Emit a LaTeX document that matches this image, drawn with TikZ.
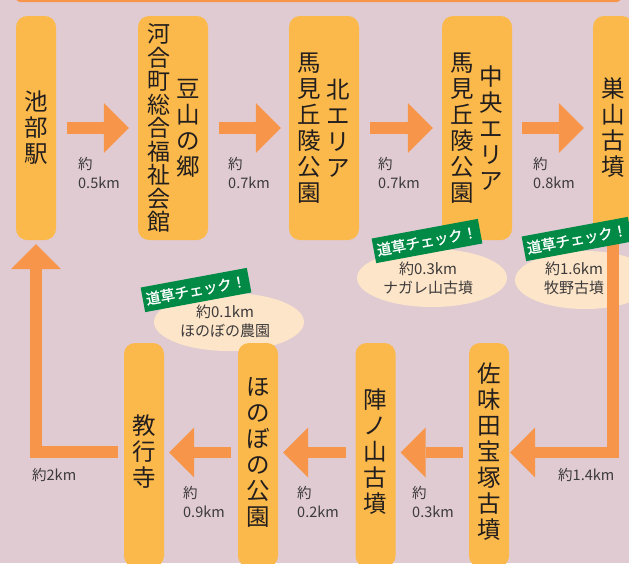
\documentclass[tikz,border=0pt]{standalone}
\usepackage{fontspec}
\setmainfont{Noto Sans CJK JP}
\newfontfamily\tagfont[FakeBold=1.3]{Noto Sans CJK JP}
\usetikzlibrary{arrows.meta,shapes.geometric}
\definecolor{bgc}{RGB}{224,203,210}
\definecolor{boxc}{RGB}{251,185,75}
\definecolor{arrc}{RGB}{247,149,74}
\definecolor{tagc}{RGB}{0,138,70}
\definecolor{ellc}{RGB}{253,229,201}
\definecolor{txtc}{RGB}{35,30,30}
\definecolor{lblc}{RGB}{60,58,58}
\begin{document}
\begin{tikzpicture}[x=1pt,y=-1pt,
 stop/.style={fill=boxc, rounded corners=11pt, minimum width=40pt, minimum height=224pt, inner sep=0pt},
 wide/.style={stop, minimum width=70pt},
 vt/.style={font=\fontsize{23.5}{26}\selectfont, align=center, inner sep=0pt, text=txtc},
 vtt/.style={vt, font=\fontsize{23}{23.5}\selectfont},
 bigarr/.style={draw=arrc, line width=11.5pt, -{Triangle[width=50pt,length=25pt,line width=0pt]}},
 dist/.style={font=\fontsize{14.5}{19}\selectfont, align=left, inner sep=0pt, text=lblc, anchor=west},
 spot/.style={ellipse, fill=ellc, inner sep=0pt, minimum width=150pt, minimum height=58pt},
 spottxt/.style={font=\fontsize{15}{19}\selectfont, align=center, inner sep=0pt, text=lblc},
 tag/.style={fill=tagc, text=white, font=\tagfont\fontsize{14.5}{15}\selectfont, minimum width=108pt, minimum height=25pt, inner sep=0pt, rotate=10.5}]
\fill[bgc] (0,0) rectangle (629,563);
\useasboundingbox (0,0) rectangle (629,563);
\clip (0,0) rectangle (629,563);
\fill[arrc, rounded corners=4pt] (16,-10) rectangle (621,2);
% side trips
\node[spot] (e1) at (432,278) {};
\node[spot, minimum width=140pt] (e2) at (585,280) {};
\node[spot] (e3) at (229,322) {};
% stops
\node[stop] (b1) at (36,128) {};
\node[wide] (b2) at (173,128) {};
\node[wide] (b3) at (324,128) {};
\node[wide] (b4) at (477,128) {};
\node[stop] (b5) at (613,128) {};
\node[stop] (b6) at (489,455) {};
\node[stop] (b7) at (375.5,455) {};
\node[stop] (b8) at (258,455) {};
\node[stop] (b9) at (144,455) {};
% stop names
\node[vt] (t1) at (b1.center) {池\\部\\駅};
\node[vtt] (t2a) at ([xshift=-14pt]b2.center) {河\\合\\町\\総\\合\\福\\祉\\会\\館};
\node[vt] (t2b) at ([xshift=15pt]b2.center) {豆\\山\\の\\郷};
\node[vt] (t3a) at ([xshift=-15pt]b3.center) {馬\\見\\丘\\陵\\公\\園};
\node[vt] (t3b) at ([xshift=14pt]b3.center) {北\\エ\\リ\\ア};
\node[vt] (t4a) at ([xshift=-15pt]b4.center) {馬\\見\\丘\\陵\\公\\園};
\node[vt] (t4b) at ([xshift=14pt]b4.center) {中\\央\\エ\\リ\\ア};
\node[vt] (t5) at (b5.center) {巣\\山\\古\\墳};
\node[vt] (t6) at ([yshift=3pt]b6.center) {佐\\味\\田\\宝\\塚\\古\\墳};
\node[vt] (t7) at ([yshift=3pt]b7.center) {陣\\ノ\\山\\古\\墳};
\node[vt] (t8) at ([yshift=3pt]b8.center) {ほ\\の\\ぼ\\の\\公\\園};
\node[vt] (t9) at ([yshift=3pt]b9.center) {教\\行\\寺};
% arrows
\draw[bigarr] ([xshift=11pt]b1.east) -- ([xshift=-9pt]b2.west);
\draw[bigarr] ([xshift=11pt]b2.east) -- ([xshift=-8pt]b3.west);
\draw[bigarr] ([xshift=11pt]b3.east) -- ([xshift=-9pt]b4.west);
\draw[bigarr] ([xshift=10pt]b4.east) -- ([xshift=-9pt]b5.west);
\coordinate (r1) at (613,452.5);
\draw[bigarr] (b5.south) -- (r1) -- ([xshift=1pt,yshift=2.5pt]b6.east);
\draw[bigarr] ([xshift=-6pt,yshift=2.5pt]b6.west) -- ([xshift=5pt,yshift=2.5pt]b7.east);
\draw[bigarr] ([xshift=-9pt,yshift=2.5pt]b7.west) -- ([xshift=5pt,yshift=2.5pt]b8.east);
\draw[bigarr] ([xshift=-7pt,yshift=2.5pt]b8.west) -- ([xshift=5pt,yshift=2.5pt]b9.east);
\coordinate (l2) at (36,452);
\draw[bigarr] ([xshift=-6pt,yshift=3pt]b9.west) -- (l2) -- ([yshift=-4pt]b1.south);
% distances
\node[dist] (d1) at (78,172.5) {約\\0.5km};
\node[dist] (d2) at (228,172.5) {約\\0.7km};
\node[dist] (d3) at (378,172.5) {約\\0.7km};
\node[dist] (d4) at (533,172.5) {約\\0.8km};
\node[dist] (d5) at (412,501.5) {約\\0.3km};
\node[dist] (d6) at (297,501.5) {約\\0.2km};
\node[dist] (d7) at (183,501.5) {約\\0.9km};
\node[dist] (d8) at (558,475) {約1.4km};
\node[dist] (d9) at (32,475) {約2km};
% side trip texts
\node[spottxt] (e1t) at (428,278.5) {約0.3km\\ナガレ山古墳};
\node[spottxt] (e2t) at (574,278.5) {約1.6km\\牧野古墳};
\node[spottxt] (e3t) at (225,321) {約0.1km\\ほのぼの農園};
% tags
\node[tag] (g1) at (427,241) {道草チェック！};
\node[tag] (g2) at (577,239) {道草チェック！};
\node[tag] (g3) at (196,290) {道草チェック！};
\end{tikzpicture}
\end{document}
